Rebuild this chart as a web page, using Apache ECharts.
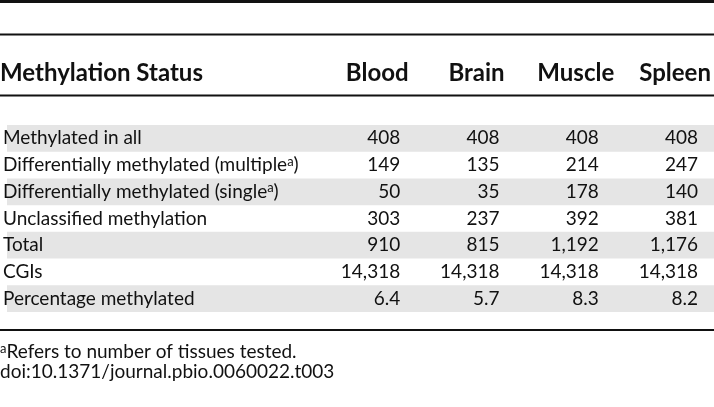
<!DOCTYPE html>
<html><head><meta charset="utf-8">
<script src="https://cdn.jsdelivr.net/npm/echarts@6/dist/echarts.min.js"></script>
<style>html,body{margin:0;padding:0;background:#fff}#c{width:714px;height:407px}</style>
</head><body><div id="c"></div>
<script>
// ---- data ----
const columns = ['Blood', 'Brain', 'Muscle', 'Spleen'];
const rowHeader = 'Methylation Status';
const rowLabels = ['Methylated in all', 'Differentially methylated (multiple{sup|a})', 'Differentially methylated (single{sup|a})', 'Unclassified methylation', 'Total', 'CGIs', 'Percentage methylated'];
const blood  = [408, 149, 50, 303, 910, 14318, 6.4];
const brain  = [408, 135, 35, 237, 815, 14318, 5.7];
const muscle = [408, 214, 178, 392, 1192, 14318, 8.3];
const spleen = [408, 247, 140, 381, 1176, 14318, 8.2];
const footnote = '{sup|a}Refers to number of tissues tested.';
const doi = 'doi:10.1371/journal.pbio.0060022.t003';

const FONT = 'Lato';
const BODY = 19, HEAD = 24;
const seriesVals = [blood, brain, muscle, spleen];
const cells = [];
seriesVals.forEach((vals, c) => vals.forEach((v, r) => cells.push([c + 1, r, v])));
function fmt(v, r) { return r === rowLabels.length - 1 ? v.toFixed(1) : v.toLocaleString('en-US'); }

const chart = echarts.init(document.getElementById('c'), null, {renderer: 'canvas'});
const ink = '#111';
const supStyle = {fontFamily: FONT, fontSize: 13, verticalAlign: 'top', color: ink, fill: ink, padding: [0, 0, 7, 0]};
chart.setOption({
  animation: false,
  grid: {left: 0, right: 0, top: 125, height: 187},
  xAxis: {
    type: 'value', position: 'top', min: -2.96, max: 4.16,
    axisLine: {show: false}, axisTick: {show: false}, splitLine: {show: false},
    axisLabel: {
      customValues: [1, 2, 3, 4], margin: 51.5, verticalAlign: 'middle', align: 'center',
      padding: [0, 46, 0, 0],
      formatter: v => columns[Math.round(v) - 1] || '',
      fontFamily: FONT, fontWeight: 'bold', fontSize: HEAD, color: ink
    }
  },
  yAxis: {
    type: 'category', inverse: true, data: rowLabels,
    axisLine: {show: false}, axisTick: {show: false}, splitLine: {show: false},
    splitArea: {show: true, areaStyle: {color: ['#e5e5e5', 'rgba(255,255,255,0)']}},
    axisLabel: {
      inside: true, margin: -4, align: 'left', verticalAlign: 'middle',
      fontFamily: FONT, fontSize: BODY, color: ink,
      rich: {sup: supStyle}
    }
  },
  series: [{
    type: 'custom', data: cells,
    renderItem: (params, api) => {
      const p = api.coord([api.value(0), api.value(1)]);
      return {type: 'text', x: p[0], y: p[1], style: {
        text: fmt(api.value(2), api.value(1)), align: 'right', verticalAlign: 'middle',
        font: BODY + 'px ' + FONT, fill: ink}};
    }
  }],
  graphic: [
    {type: 'rect', shape: {x: 0, y: 0, width: 714, height: 3}, style: {fill: ink}},
    {type: 'rect', shape: {x: 0, y: 33.5, width: 714, height: 2}, style: {fill: ink}},
    {type: 'rect', shape: {x: 0, y: 94.5, width: 714, height: 2}, style: {fill: ink}},
    {type: 'rect', shape: {x: 0, y: 329, width: 714, height: 2}, style: {fill: ink}},
    {type: 'text', x: 0, y: 73.5, style: {text: rowHeader, verticalAlign: 'middle', font: 'bold ' + HEAD + 'px ' + FONT, fill: ink}},
    {type: 'text', x: 0, y: 352, style: {text: footnote, verticalAlign: 'middle', font: BODY + 'px ' + FONT, fill: ink,
      rich: {sup: supStyle}}},
    {type: 'text', x: 0, y: 372, style: {text: doi, verticalAlign: 'middle', font: BODY + 'px ' + FONT, fill: ink}}
  ]
});
</script></body></html>
